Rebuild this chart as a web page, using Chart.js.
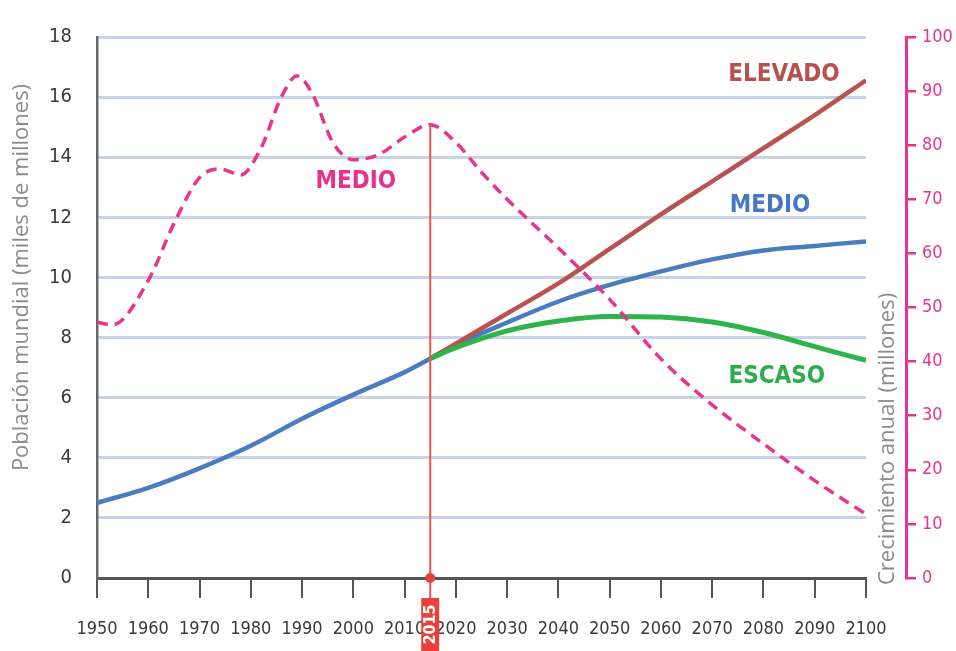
<!DOCTYPE html>
<html>
<head>
<meta charset="utf-8">
<script src="https://cdn.jsdelivr.net/npm/chart.js@4.4.1/dist/chart.umd.min.js"></script>
<style>
html, body { margin: 0; padding: 0; background: #fff; }
#caja { width: 956px; height: 651px; }
</style>
</head>
<body>
<div id="caja"><canvas id="grafico"></canvas></div>
<script>
// poblacion mundial (miles de millones)
var anosMedio = [1950, 1960, 1970, 1980, 1990, 2000, 2010, 2015, 2020, 2030, 2040, 2050, 2060, 2070, 2080, 2090, 2100]
var medio = [2.5, 3.0, 3.65, 4.4, 5.3, 6.1, 6.85, 7.3, 7.75, 8.5, 9.2, 9.75, 10.2, 10.6, 10.9, 11.05, 11.2]

var anosProyeccion = [2015, 2020, 2030, 2040, 2050, 2060, 2070, 2080, 2090, 2100]
var elevado = [7.3, 7.8, 8.8, 9.8, 10.95, 12.1, 13.2, 14.3, 15.4, 16.56]
var escaso = [7.3, 7.66, 8.22, 8.55, 8.7, 8.68, 8.52, 8.17, 7.7, 7.24]

// crecimiento anual (millones)
var anosCrecimiento = [1950, 1953, 1960, 1965, 1970, 1974, 1978, 1982, 1986, 1989, 1992, 1996, 2000, 2005, 2010, 2015, 2020, 2025, 2030, 2040, 2050, 2060, 2070, 2080, 2090, 2100]
var crecimiento = [47.3, 46.8, 55, 65.5, 74, 75.6, 74.5, 79.5, 89, 92.8, 89.5, 80.5, 77.3, 78.3, 81.5, 83.8, 80.5, 75, 70, 61, 51.5, 40.5, 32, 24.8, 18, 11.8]

var anoActual = 2015

var etiquetas = ['ELEVADO', 'MEDIO', 'ESCASO', 'MEDIO']
var etiquetaAnos = [2084, 2081.3, 2082.6, 2000.5]
var etiquetaValores = [16.75, 12.4, 6.7, 13.2]
var etiquetaColores = ['#b5524e', '#4677c2', '#2bae4a', '#e5338c']

var fuenteNum = "'DejaVu Sans Condensed', 'DejaVu Sans', sans-serif"

function puntos(xs, ys) {
  return xs.map(function (v, i) { return { x: v, y: ys[i] } })
}

var extras = {
  id: 'extras',
  afterDatasetsDraw: function (chart) {
    var ctx = chart.ctx
    var x = chart.scales.x, y = chart.scales.y, y1 = chart.scales.y1
    var area = chart.chartArea

    // etiquetas de las series
    ctx.save()
    ctx.font = "bold 24px " + fuenteNum
    ctx.textAlign = 'center'
    ctx.textBaseline = 'middle'
    for (var i = 0; i < etiquetas.length; i++) {
      ctx.fillStyle = etiquetaColores[i]
      ctx.fillText(etiquetas[i], x.getPixelForValue(etiquetaAnos[i]), y.getPixelForValue(etiquetaValores[i]))
    }
    ctx.restore()

    // marca 2015
    var k = anosCrecimiento.indexOf(anoActual)
    var px = x.getPixelForValue(anoActual)
    var arriba = y1.getPixelForValue(crecimiento[k])
    ctx.save()
    ctx.strokeStyle = '#ef5250'
    ctx.lineWidth = 2
    ctx.beginPath()
    ctx.moveTo(px, arriba)
    ctx.lineTo(px, area.bottom + 22)
    ctx.stroke()
    ctx.fillStyle = '#e8403c'
    ctx.beginPath()
    ctx.arc(px, area.bottom, 5, 0, Math.PI * 2)
    ctx.fill()
    ctx.fillRect(px - 9, area.bottom + 20, 18, chart.height - area.bottom - 20)
    ctx.translate(px, (area.bottom + 20 + chart.height) / 2)
    ctx.rotate(-Math.PI / 2)
    ctx.fillStyle = '#fff'
    ctx.font = "bold 16px " + fuenteNum
    ctx.textAlign = 'center'
    ctx.textBaseline = 'middle'
    ctx.fillText(String(anoActual), 0, 1)
    ctx.restore()

    // titulos de los ejes
    ctx.save()
    ctx.fillStyle = '#8c8c8c'
    ctx.font = "22px 'Open Sans', sans-serif"
    ctx.textBaseline = 'middle'
    ctx.translate(22, (area.top + area.bottom) / 2 - 30)
    ctx.rotate(-Math.PI / 2)
    ctx.textAlign = 'center'
    ctx.fillText('Población mundial (miles de millones)', 0, 0)
    ctx.restore()

    ctx.save()
    ctx.fillStyle = '#8c8c8c'
    ctx.font = "22px 'Open Sans', sans-serif"
    ctx.textBaseline = 'middle'
    ctx.translate((area.right + y1.left) / 2 + 2, area.bottom + 7)
    ctx.rotate(-Math.PI / 2)
    ctx.textAlign = 'left'
    ctx.fillText('Crecimiento anual (millones)', 0, 0)
    ctx.restore()
  }
}

new Chart(document.getElementById('grafico'), {
  type: 'line',
  data: {
    datasets: [{
      label: 'Crecimiento medio',
      data: puntos(anosCrecimiento, crecimiento),
      yAxisID: 'y1',
      borderColor: '#e8338f',
      borderWidth: 3.5,
      borderDash: [11, 7],
      cubicInterpolationMode: 'monotone',
      pointRadius: 0
    }, {
      label: 'Escaso',
      data: puntos(anosProyeccion, escaso),
      borderColor: '#2fb34b',
      borderWidth: 5,
      cubicInterpolationMode: 'monotone',
      pointRadius: 0
    }, {
      label: 'Elevado',
      data: puntos(anosProyeccion, elevado),
      borderColor: '#b85450',
      borderWidth: 4.5,
      cubicInterpolationMode: 'monotone',
      pointRadius: 0
    }, {
      label: 'Medio',
      data: puntos(anosMedio, medio),
      borderColor: '#4a7cc2',
      borderWidth: 4.5,
      cubicInterpolationMode: 'monotone',
      pointRadius: 0
    }]
  },
  options: {
    responsive: true,
    maintainAspectRatio: false,
    animation: false,
    layout: { padding: { top: 26, left: 0, right: 0, bottom: 0 } },
    plugins: { legend: { display: false }, tooltip: { enabled: false } },
    scales: {
      x: {
        type: 'linear',
        min: 1950,
        max: 2100,
        afterFit: function (s) { s.height = 73 },
        ticks: {
          stepSize: 10,
          autoSkip: false,
          color: '#3a3a3a',
          padding: 21,
          maxRotation: 0,
          font: { family: fuenteNum, size: 18 },
          callback: function (v) { return String(v) }
        },
        grid: { drawOnChartArea: false, color: '#555', lineWidth: 2, tickLength: 20 },
        border: { color: '#555', width: 3 }
      },
      y: {
        position: 'left',
        min: 0,
        max: 18,
        afterFit: function (s) { s.width = 97 },
        ticks: {
          stepSize: 2,
          color: '#3a3a3a',
          padding: 25,
          font: { family: fuenteNum, size: 20 }
        },
        grid: { color: '#c8d3e9', lineWidth: 3, drawTicks: false },
        border: { color: '#666', width: 2.5 }
      },
      hueco: {
        position: 'right',
        weight: 0,
        min: 0,
        max: 100,
        afterFit: function (s) { s.width = 40 },
        ticks: { display: false },
        grid: { display: false },
        border: { display: false }
      },
      y1: {
        position: 'right',
        weight: 1,
        min: 0,
        max: 100,
        afterFit: function (s) { s.width = 50 },
        ticks: {
          stepSize: 10,
          color: '#e8338f',
          padding: 6,
          font: { family: fuenteNum, size: 18 }
        },
        grid: { drawOnChartArea: false, color: '#e8338f', lineWidth: 2.5, tickLength: 10 },
        border: { color: '#e8338f', width: 3 }
      }
    }
  },
  plugins: [extras]
})
</script>
</body>
</html>
